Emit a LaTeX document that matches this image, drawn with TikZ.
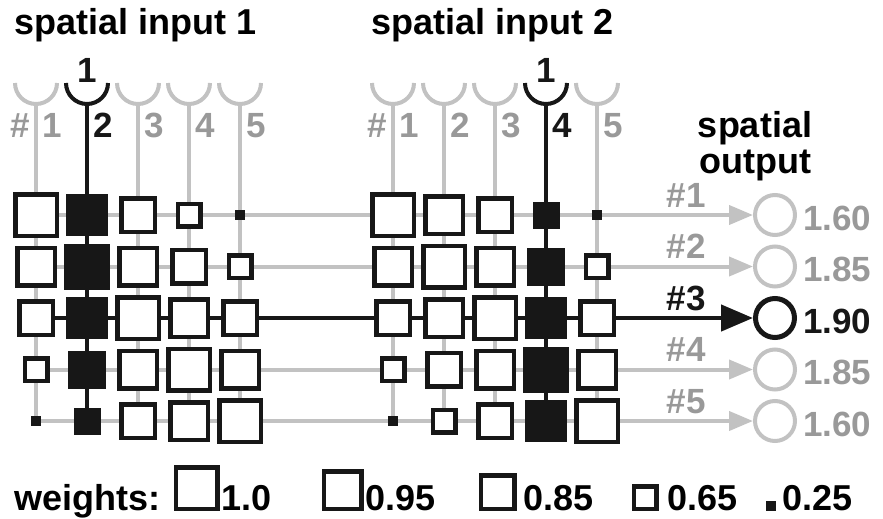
\documentclass[tikz,border=0pt]{standalone}
\usepackage{fontspec}
\setmainfont{Liberation Sans}
\usetikzlibrary{arrows.meta}
\pgfdeclarelayer{wires}
\pgfsetlayers{wires,main}
\definecolor{ink}{gray}{0.09}
\definecolor{pale}{gray}{0.76}
\definecolor{mid}{gray}{0.6}
\tikzset{
  cell/.style={draw=ink, fill=white, line width=4.5pt, inner sep=0pt, minimum size=#1},
  wire/.style={draw=pale, line width=4pt},
  live/.style={draw=ink, line width=4.5pt},
  big/.style={font=\fontsize{36}{38}\selectfont\bfseries, inner sep=0pt},
  tag/.style={font=\fontsize{35}{37}\selectfont\bfseries, inner sep=0pt, text=mid},
  unit/.style={circle, draw=pale, line width=4pt, minimum size=40pt, inner sep=0pt},
}

\begin{document}
\begin{tikzpicture}[x=1pt, y=1pt]
  \useasboundingbox (0,0) rectangle (883,-519);
  % Headings.
  \node[big, anchor=base west] (head-a) at (14,-35) {spatial input 1};
  \node[big, anchor=base west] (head-b) at (371,-35) {spatial input 2};
  \node[big, anchor=base] (head-out) at (755,-137) {spatial};
  \node[big, anchor=base] (head-out2) at (755,-173) {output};
  % Weight grids, the filled column is the active input.
  \foreach \g/\xa/\on in {a/36/2, b/393/4} {
    \foreach \r in {1,...,5} {
      \foreach \c in {1,...,5} {
        \pgfmathtruncatemacro\d{abs(\r-\c)}
        \pgfmathsetmacro\s{{41.5,37.5,33.5,22.5,5.5}[\d]}
        \def\fc{white}
        \ifnum\d=4 \def\fc{ink}\fi
        \ifnum\c=\on \def\fc{ink}\fi
        \node[cell=\s pt, fill=\fc] (\g-\r-\c) at ({\xa+51*(\c-1)}, {-215-51.5*(\r-1)}) {};
      }
    }
    % Receptors and their numbers.
    \foreach \c in {1,...,5} {
      \def\tc{mid}
      \ifnum\c=\on \def\tc{ink}\fi
      \coordinate (\g-top-\c) at ({\xa+51*(\c-1)}, -83);
      \node[tag, text=\tc, anchor=base west] (\g-num-\c) at ({\xa+51*(\c-1)+6}, -137) {\c};
    }
    \node[tag, anchor=base east] (\g-hash) at ({\xa-6}, -137) {\#};
    \node[tag, text=ink, anchor=base] (\g-spike) at ({\xa+51*(\on-1)}, -82) {1};
  }
  % Output units.
  \foreach \r/\v in {1/1.60, 2/1.85, 4/1.85, 5/1.60} {
    \node[unit] (out-\r) at (775, {-215-51.5*(\r-1)}) {};
    \node[tag, anchor=base west] (val-\r) at (803, {-230-51.5*(\r-1)}) {\v};
    \node[tag, anchor=base] (row-\r) at (686, {-207-51.5*(\r-1)}) {\#\r};
  }
  \node[unit, draw=ink, line width=5pt, minimum size=39pt] (out-3) at (775,-318) {};
  \node[tag, text=ink, anchor=base west] (val-3) at (803,-333) {1.90};
  \node[tag, text=ink, anchor=base] (row-3) at (686,-310) {\#3};
  % Legend.
  \node[big, anchor=base west] (key) at (14,-510) {weights:};
  \node[cell=41.5pt, anchor=south] (key-1) at (196.5,-511) {};
  \node[big, anchor=base west] (key-1-txt) at (221,-510) {1.0};
  \node[cell=37.5pt, anchor=south] (key-2) at (342.5,-511) {};
  \node[big, anchor=base west] (key-2-txt) at (365,-510) {0.95};
  \node[cell=33.5pt, anchor=south] (key-3) at (497.5,-511) {};
  \node[big, anchor=base west] (key-3-txt) at (523,-510) {0.85};
  \node[cell=22.5pt, anchor=south] (key-4) at (645,-511) {};
  \node[big, anchor=base west] (key-4-txt) at (667,-510) {0.65};
  \node[cell=5.5pt, fill=ink, anchor=south] (key-5) at (771,-511) {};
  \node[big, anchor=base west] (key-5-txt) at (782,-510) {0.25};
  % Wires under the weights.
  \begin{pgfonlayer}{wires}
    \foreach \g/\on in {a/2, b/4} {
      \foreach \c in {1,...,5} {
        \def\wc{pale}
        \ifnum\c=\on \def\wc{ink}\fi
        \draw[wire, draw=\wc] ([xshift=-21pt]\g-top-\c) arc (180:360:21pt);
        \draw[wire, draw=\wc] ([yshift=-21pt]\g-top-\c) -- (\g-5-\c.center);
      }
    }
    \foreach \r in {1,2,4,5}
      \draw[wire, -{Triangle[length=24pt,width=19pt]}] (a-\r-1.center) -- (out-\r);
    \draw[live, -{Triangle[length=32pt,width=26pt]}] (a-3-1.center) -- (out-3);
  \end{pgfonlayer}
\end{tikzpicture}
\end{document}
